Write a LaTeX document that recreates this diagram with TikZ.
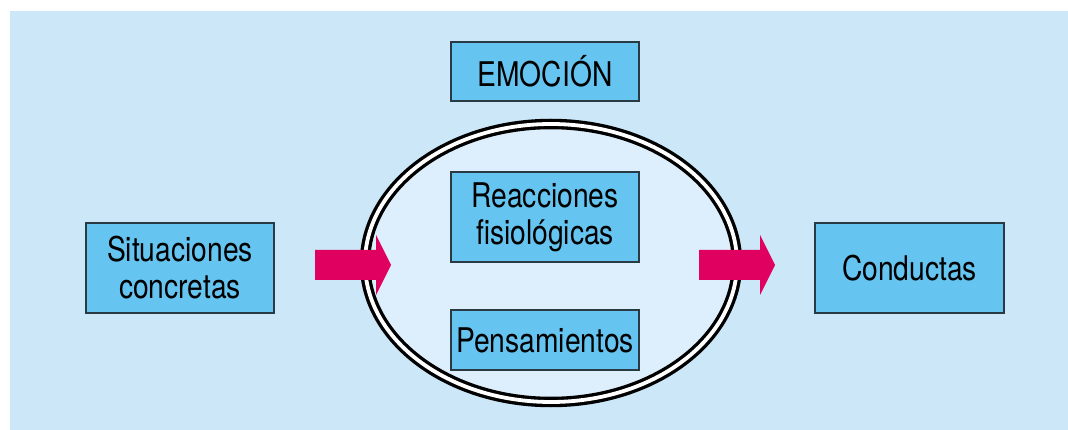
\documentclass[tikz,border=0pt]{standalone}
\usepackage{fontspec}
\setmainfont{TeX Gyre Heros}[FakeStretch=0.83]
\definecolor{bgblue}{HTML}{CBE7F8}
\definecolor{inblue}{HTML}{DDEFFC}
\definecolor{boxblue}{HTML}{65C4F0}
\definecolor{boxline}{HTML}{2A3A44}
\definecolor{arrowmag}{HTML}{E0005F}
\begin{document}
\begin{tikzpicture}[x=1pt,y=-1pt,
  box/.style={draw=boxline, line width=1.2pt, fill=boxblue, align=center,
    inner sep=0pt, font=\fontsize{34}{37}\selectfont},
  bigarrow/.style={fill=arrowmag}]
\useasboundingbox (0,0) rectangle (1068,430);
\fill[bgblue] (10,11) rectangle (1068,430);
% ellipse
\fill[inblue] (551,263) ellipse [x radius=187, y radius=140];
\draw[black, line width=10.5pt] (551,263) ellipse [x radius=186, y radius=139];
\draw[white, line width=3.8pt] (551,263) ellipse [x radius=186, y radius=139];
% boxes
\node[box, minimum width=188pt, minimum height=59pt] (emo) at (545,71.5) {EMOCI\'ON};
\node[box, minimum width=188pt, minimum height=90pt] (reac) at (545,217) {Reacciones\\fisiol\'ogicas};
\node[box, minimum width=188pt, minimum height=60pt] (pens) at (545,340) {Pensamientos};
\node[box, minimum width=188pt, minimum height=90pt] (sit) at (180,268) {Situaciones\\concretas};
\node[box, minimum width=189pt, minimum height=90pt] (cond) at (909.5,268) {Conductas};
% arrows
\fill[bigarrow] (315,250) -- (376,250) -- (376,235) -- (391,265) -- (376,295) -- (376,280) -- (315,280) -- cycle;
\fill[bigarrow] (699,250) -- (760,250) -- (760,235) -- (775,265) -- (760,295) -- (760,280) -- (699,280) -- cycle;
\end{tikzpicture}
\end{document}
